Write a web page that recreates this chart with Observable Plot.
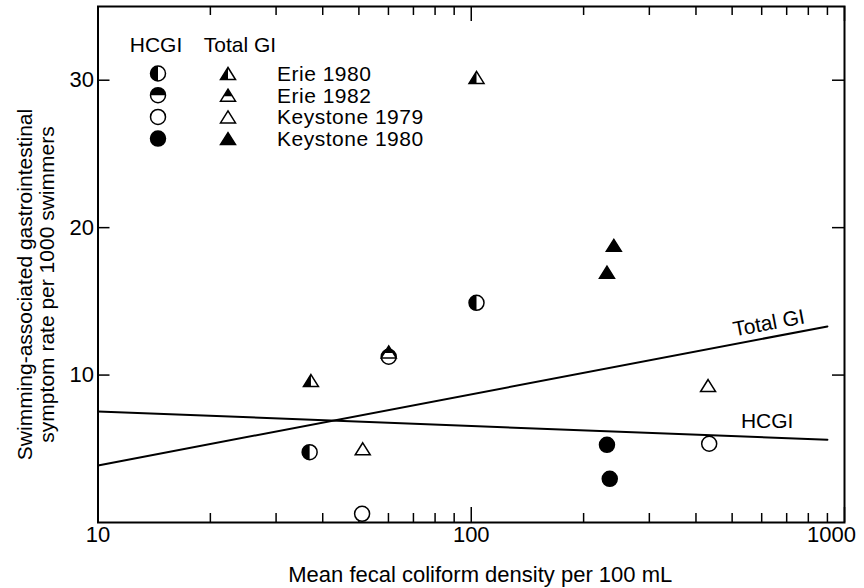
<!DOCTYPE html>
<html><head><meta charset="utf-8">
<script src="https://cdn.jsdelivr.net/npm/d3@7"></script>
<script src="https://cdn.jsdelivr.net/npm/@observablehq/plot@0.6"></script>
<style>
html,body{margin:0;padding:0;background:#fff;}
#chart{width:864px;height:588px;}
#chart svg{font-family:"Liberation Sans",Arial,Helvetica,sans-serif;}
</style></head><body><div id="chart"></div>
<script>
// ---- data ----
const studies = ["Erie 1980", "Erie 1982", "Keystone 1979", "Keystone 1980"];

// Highly credible GI (HCGI) observations
const hcgiStudy   = ["Erie 1980", "Erie 1980", "Erie 1982", "Keystone 1979", "Keystone 1979", "Keystone 1980", "Keystone 1980"];
const hcgiDensity = [36.9, 103.3, 60.1, 51.0, 434, 231, 235];
const hcgiRate    = [4.77, 14.9, 11.24, 0.59, 5.34, 5.27, 2.96];

// Total GI observations
const giStudy   = ["Erie 1980", "Erie 1980", "Erie 1982", "Keystone 1979", "Keystone 1979", "Keystone 1980", "Keystone 1980"];
const giDensity = [37.2, 103.3, 60.1, 51.2, 431, 241, 231];
const giRate    = [9.63, 30.19, 11.57, 5.0, 9.29, 18.8, 16.98];

// fitted regression lines (end points)
const fitDensity = [10, 900];
const fitTotalGI = [3.87, 13.3];
const fitHCGI    = [7.53, 5.61];

// axis ticks
const xMajorTicks = [10, 100, 1000];
const xMinorTicks = [20, 30, 40, 50, 60, 70, 80, 90, 200, 300, 400, 500, 600, 700, 800, 900];
const yTicks = [10, 20, 30];

const xLabel = "Mean fecal coliform density per 100 mL";
const yLabel = "Swimming-associated gastrointestinal\nsymptom rate per 1000 swimmers";

// ---- symbol shapes ----
const TRI_H = 1.6;
const rad = size => Math.sqrt(size / Math.PI);
const shapes = {
  circle: {draw(c, s) { const R = rad(s); c.moveTo(R, 0); c.arc(0, 0, R, 0, 2 * Math.PI); c.closePath(); }},
  circleLeft: {draw(c, s) { const R = rad(s); c.moveTo(0, R); c.arc(0, 0, R, Math.PI / 2, 3 * Math.PI / 2); c.closePath(); }},
  circleTop: {draw(c, s) { const R = rad(s); c.moveTo(-R, 0); c.arc(0, 0, R, Math.PI, 2 * Math.PI); c.closePath(); }},
  triangle: {draw(c, s) { const R = rad(s), h = R * TRI_H; c.moveTo(0, -h / 2); c.lineTo(R, h / 2); c.lineTo(-R, h / 2); c.closePath(); }},
  triangleLeft: {draw(c, s) { const R = rad(s), h = R * TRI_H; c.moveTo(0, -h / 2); c.lineTo(0, h / 2); c.lineTo(-R, h / 2); c.closePath(); }},
  triangleTop: {draw(c, s) { const R = rad(s), h = R * TRI_H, f = 0.58; c.moveTo(0, -h / 2); c.lineTo(R * f, -h / 2 + h * f); c.lineTo(-R * f, -h / 2 + h * f); c.closePath(); }}
};
const fillStyle = {"Erie 1980": "left", "Erie 1982": "top", "Keystone 1979": "open", "Keystone 1980": "solid"};

const R = 7.5, SW = 1.5;
function symbolMarks(rows, kind) {
  const marks = [];
  for (const st of studies) {
    const sub = rows.filter(d => d.study === st);
    const f = fillStyle[st];
    marks.push(Plot.dot(sub, {x: "density", y: "rate", r: R, symbol: shapes[kind],
      fill: f === "solid" ? "#000" : "#fff", stroke: "#000", strokeWidth: SW}));
    if (f === "left" || f === "top") {
      const key = kind + (f === "left" ? "Left" : "Top");
      marks.push(Plot.dot(sub, {x: "density", y: "rate", r: R, symbol: shapes[key], fill: "#000", stroke: "none"}));
    }
  }
  return marks;
}

const hcgi = hcgiDensity.map((d, i) => ({density: d, rate: hcgiRate[i], study: hcgiStudy[i]}));
const gi = giDensity.map((d, i) => ({density: d, rate: giRate[i], study: giStudy[i]}));

const W = 864, Hh = 588, ML = 97.5, MR = 20, MT = 6, MB = 66;
const FW = W - ML - MR, FH = Hh - MT - MB;
const font = '"Liberation Sans",Arial,Helvetica,sans-serif';

const chart = Plot.plot({
  width: W, height: Hh, marginLeft: ML, marginRight: MR, marginTop: MT, marginBottom: MB,
  style: {fontFamily: font, fontSize: "20px", background: "#fff", color: "#000", overflow: "visible"},
  x: {type: "log", domain: [10, 1000], axis: null},
  y: {domain: [0, 35], axis: null},
  marks: [
    // inward ticks
    Plot.ruleX(xMinorTicks, {x: d => d, insetTop: FH - 9, strokeWidth: 1.5}),
    Plot.ruleX(xMinorTicks, {x: d => d, insetBottom: FH - 9, strokeWidth: 1.5}),
    Plot.ruleX(xMajorTicks, {x: d => d, insetTop: FH - 15, strokeWidth: 1.5}),
    Plot.ruleX(xMajorTicks, {x: d => d, insetBottom: FH - 15, strokeWidth: 1.5}),
    Plot.ruleY(yTicks, {y: d => d, insetRight: FW - 12, strokeWidth: 1.5}),
    Plot.ruleY(yTicks, {y: d => d, insetLeft: FW - 12, strokeWidth: 1.5}),
    Plot.frame({stroke: "#000", strokeWidth: 2}),
    // tick labels
    Plot.text(yTicks, {y: d => d, frameAnchor: "left", textAnchor: "end", dx: -4, fontSize: 22, text: d => String(d)}),
    Plot.text(xMajorTicks.filter(d => d < 1000), {x: d => d, frameAnchor: "bottom", lineAnchor: "top", dy: 4, fontSize: 22, text: d => String(d)}),
    Plot.text(xMajorTicks.filter(d => d >= 1000), {x: d => d, frameAnchor: "bottom", lineAnchor: "top", dy: 4, dx: -13, fontSize: 22, text: d => String(d)}),
    // axis labels
    Plot.text([xLabel], {frameAnchor: "bottom", textAnchor: "middle", lineAnchor: "middle", dy: 52, dx: 9, fontSize: 22, text: d => d}),
    Plot.text([yLabel], {frameAnchor: "left", textAnchor: "middle", rotate: -90, lineAnchor: "middle", dx: -62, dy: 20, fontSize: 21, lineHeight: 1.05, text: d => d}),
    // fitted lines
    Plot.line(fitTotalGI, {x: fitDensity, y: fitTotalGI, stroke: "#000", strokeWidth: 2}),
    Plot.line(fitHCGI, {x: fitDensity, y: fitHCGI, stroke: "#000", strokeWidth: 2}),
    Plot.text([fitTotalGI[fitTotalGI.length - 1]], {x: () => fitDensity[fitDensity.length - 1], y: d => d, text: () => "Total GI",
      textAnchor: "end", lineAnchor: "middle", rotate: -10.8, dx: -23, dy: -10, fontSize: 21}),
    Plot.text([fitHCGI[fitHCGI.length - 1]], {x: () => fitDensity[fitDensity.length - 1], y: d => d, text: () => "HCGI",
      textAnchor: "end", lineAnchor: "middle", dx: -34, dy: -19, fontSize: 21}),
    // observations
    ...symbolMarks(hcgi, "circle"),
    ...symbolMarks(gi, "triangle")
  ]
});
document.getElementById("chart").appendChild(chart);

// ---- legend ----
const svg = d3.select(chart);
const lg = svg.append("g").attr("font-family", font).attr("font-size", 21).attr("fill", "#000");
const headY = 45, rowY0 = 73.5, rowStep = 21.7, cx1 = 158, cx2 = 228, tx = 277;
lg.append("text").attr("x", 156).attr("y", headY).attr("dy", "0.35em").attr("text-anchor", "middle").text("HCGI");
lg.append("text").attr("x", 240).attr("y", headY).attr("dy", "0.35em").attr("text-anchor", "middle").text("Total GI");
studies.forEach((st, i) => {
  const y = rowY0 + i * rowStep;
  const f = fillStyle[st];
  [["circle", cx1], ["triangle", cx2]].forEach(([kind, x]) => {
    const g = lg.append("g").attr("transform", `translate(${x},${y})`);
    g.append("path").attr("d", d3.symbol(shapes[kind], R * R * Math.PI)())
      .attr("fill", f === "solid" ? "#000" : "#fff").attr("stroke", "#000").attr("stroke-width", SW);
    if (f === "left" || f === "top") {
      g.append("path").attr("d", d3.symbol(shapes[kind + (f === "left" ? "Left" : "Top")], R * R * Math.PI)()).attr("fill", "#000");
    }
  });
  lg.append("text").attr("x", tx).attr("y", y).attr("dy", "0.35em").attr("text-anchor", "start")
    .attr("letter-spacing", "0.5px").text(st);
});
</script></body></html>
